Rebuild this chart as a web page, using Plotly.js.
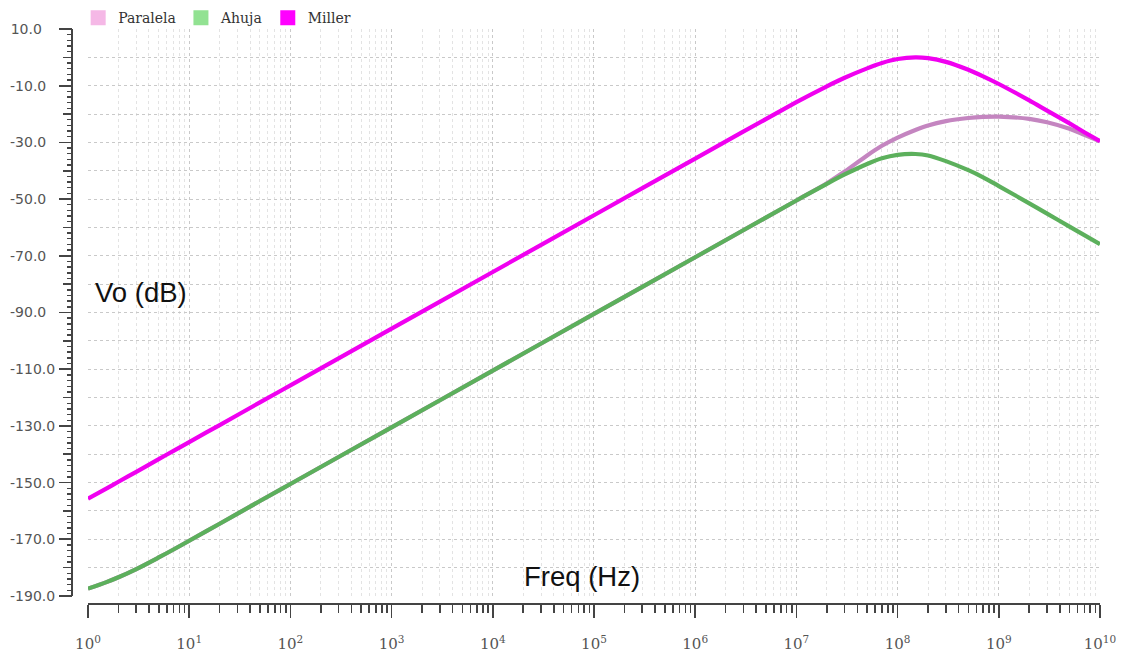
<!DOCTYPE html>
<html>
<head>
<meta charset="utf-8">
<script src="https://cdn.plot.ly/plotly-3.0.1.min.js"></script>
<style>html,body{margin:0;padding:0;background:#fff;}#chart{width:1123px;height:652px;}</style>
</head>
<body>
<div id="chart"></div>
<script>
// Frequencies (Hz)
var freq = [1, 1.5, 2, 3, 5, 7, 10, 20, 50, 100, 1e3, 1e4, 1e5, 1e6, 1e7, 2e7, 3e7, 5e7, 7e7, 1e8, 1.5e8, 2e8, 3e8, 5e8, 7e8, 1e9, 2e9, 3e9, 5e9, 7e9, 1e10];

// Vo (dB) per series
var paralela = [-187.4, -185.2, -183.4, -180.5, -176.4, -173.6, -170.5, -164.5, -156.5, -150.5, -130.5, -110.5, -90.5, -70.5, -50.5, -44.4, -40.3, -34.6, -31.2, -28.3, -25.6, -24.0, -22.5, -21.4, -21.0, -20.9, -21.7, -22.9, -25.2, -27.3, -29.6];
var ahuja    = [-187.4, -185.2, -183.4, -180.5, -176.4, -173.6, -170.5, -164.5, -156.5, -150.5, -130.5, -110.5, -90.5, -70.5, -50.5, -44.6, -41.3, -37.6, -35.6, -34.4, -34.1, -34.6, -36.6, -39.8, -42.3, -45.4, -51.5, -55.1, -59.7, -62.7, -65.9];
var miller   = [-155.7, -152.2, -149.7, -146.2, -141.7, -138.8, -135.7, -129.7, -121.7, -115.7, -95.7, -75.7, -55.7, -35.7, -15.8, -10.2, -7.2, -3.9, -2.0, -0.6, 0.0, -0.3, -1.6, -4.4, -6.7, -9.4, -15.2, -18.8, -23.3, -26.4, -29.6];

var seriesNames = ['Paralela', 'Ahuja', 'Miller'];

// Axis ticks
var xTickVals = [1, 10, 100, 1e3, 1e4, 1e5, 1e6, 1e7, 1e8, 1e9, 1e10];
var xTickText = ['10<sup>0</sup>', '10<sup>1</sup>', '10<sup>2</sup>', '10<sup>3</sup>', '10<sup>4</sup>', '10<sup>5</sup>', '10<sup>6</sup>', '10<sup>7</sup>', '10<sup>8</sup>', '10<sup>9</sup>', '10<sup>10</sup>'];
var yTickVals = [10, -10, -30, -50, -70, -90, -110, -130, -150, -170, -190];
var yTickLabels = ['10.0', '-10.0', '-30.0', '-50.0', '-70.0', '-90.0', '-110.0', '-130.0', '-150.0', '-170.0', '-190.0'];

// pad shorter labels (figure / punctuation spaces) so they read left-aligned like the reference
var FS = '\u2007', PS = '\u2008';
var yTickText = yTickLabels.map(function (t) {
  if (t.length === 4) return t + FS + PS;
  if (t.length === 5) return t + FS;
  return t;
});

var lineColors = ['#c485c0', '#5cb05c', '#f000f0'];
var swatchColors = ['#f5b8e6', '#92e292', '#ff00ff'];
var seriesData = [paralela, ahuja, miller];

var traces = [];
for (var i = 0; i < 3; i++) {
  traces.push({
    type: 'scatter', mode: 'lines', x: freq, y: seriesData[i], name: seriesNames[i],
    line: {color: lineColors[i], width: 4.2, shape: 'spline', smoothing: 0.8},
    showlegend: false, legendgroup: seriesNames[i], hoverinfo: 'x+y+name'
  });
}
// legend swatches (square markers), placed on the overlay tick axis
for (var j = 0; j < 3; j++) {
  traces.push({
    type: 'scatter', mode: 'markers', x: [null], y: [null], name: seriesNames[j], legendgroup: seriesNames[j],
    marker: {color: swatchColors[j], symbol: 'square', size: 15}, showlegend: true, yaxis: 'y2'
  });
}

var gridC = '#c9c9c9';
var axisC = '#444';
var layout = {
  width: 1123, height: 652,
  paper_bgcolor: '#ffffff', plot_bgcolor: '#ffffff',
  margin: {l: 72, r: 23, t: 29, b: 48, autoexpand: false},
  showlegend: true,
  legend: {
    orientation: 'h', x: 0.006, xanchor: 'left', y: 1.019, yanchor: 'middle',
    font: {family: 'DejaVu Serif', size: 14, color: '#333'},
    bgcolor: 'rgba(0,0,0,0)', itemclick: false, itemdoubleclick: false
  },
  xaxis: {
    type: 'log', range: [0, 10], domain: [0.01556, 1], anchor: 'free', position: 0,
    tickmode: 'array', tickvals: xTickVals, ticktext: xTickText,
    ticks: 'outside', ticklen: 13, tickwidth: 1.6, tickcolor: axisC,
    showline: true, linecolor: axisC, linewidth: 2,
    showgrid: true, gridcolor: gridC, griddash: 'dot', gridwidth: 1,
    zeroline: false,
    ticklabelstandoff: 13,
    tickfont: {family: 'DejaVu Serif', size: 15, color: '#555'},
    minor: {dtick: 'D1', ticks: 'outside', ticklen: 8, tickwidth: 1.6, tickcolor: axisC,
            showgrid: true, gridcolor: '#e3e3e3', griddash: 'dot', gridwidth: 1}
  },
  yaxis: {
    range: [-190, 10], domain: [0.01391, 1], anchor: 'free', position: 0,
    tickmode: 'array', tickvals: yTickVals, ticktext: yTickText,
    ticks: 'outside', ticklen: 12, tickwidth: 1.6, tickcolor: axisC,
    showline: true, linecolor: axisC, linewidth: 2,
    showgrid: true, gridcolor: gridC, griddash: 'dot', gridwidth: 1,
    zeroline: false,
    ticklabelstandoff: 1,
    tickfont: {family: 'DejaVu Sans', size: 14, color: '#555'},
    minor: {tickmode: 'linear', tick0: 0, dtick: 10, ticks: 'outside', ticklen: 8, tickwidth: 1.6, tickcolor: axisC,
            showgrid: true, gridcolor: gridC, griddash: 'dot', gridwidth: 1}
  },
  yaxis2: {
    range: [-190, 10], domain: [0.01391, 1], anchor: 'free', position: 0, overlaying: 'y', side: 'left',
    tickmode: 'linear', tick0: 0, dtick: 2,
    ticks: 'outside', ticklen: 5, tickwidth: 1.4, tickcolor: axisC,
    showticklabels: false, showline: false, showgrid: false, zeroline: false
  },
  annotations: [
    {text: 'Vo (dB)', xref: 'paper', yref: 'paper', x: 0.0671, y: 0.541, xanchor: 'center', yanchor: 'middle',
     showarrow: false, font: {family: 'Liberation Sans', size: 27.5, color: '#111'}},
    {text: 'Freq (Hz)', xref: 'paper', yref: 'paper', x: 0.496, y: 0.047, xanchor: 'center', yanchor: 'middle',
     showarrow: false, font: {family: 'Liberation Sans', size: 27.5, color: '#111'}}
  ]
};

Plotly.newPlot('chart', traces, layout, {staticPlot: true, displayModeBar: false});
</script>
</body>
</html>
